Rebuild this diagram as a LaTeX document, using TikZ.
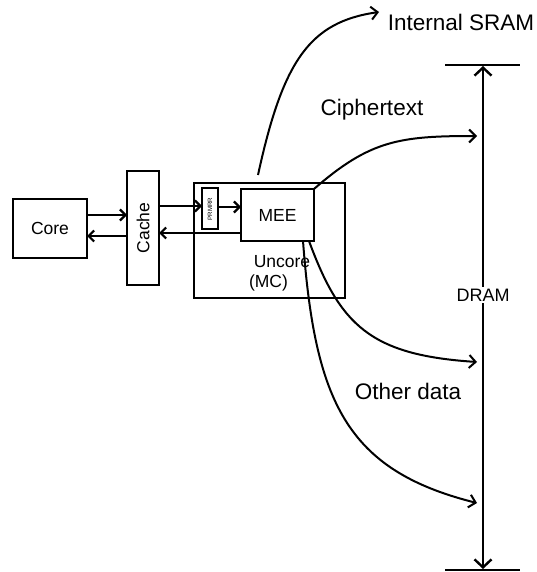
\documentclass[tikz,border=0pt]{standalone}
\usepackage{fontspec}
\setmainfont{Liberation Sans}
\usetikzlibrary{arrows.meta}
\begin{document}
\begin{tikzpicture}[x=1pt,y=-1pt,
  box/.style={draw, line width=2.5pt, inner sep=0pt, outer sep=0pt},
  boxtext/.style={font=\fontsize{17.5}{20}\selectfont},
  bigtext/.style={font=\fontsize{22.5}{26}\selectfont, inner sep=0pt},
  harr/.style={line width=2.2pt, -{Straight Barb[length=5.5pt,width=11pt]}},
  carr/.style={line width=2pt, -{Straight Barb[length=6.5pt,width=13pt]}},
  bar/.style={line width=2.4pt}]
\useasboundingbox (0,0) rectangle (536,572);

% boxes
\node[box, boxtext, minimum width=74pt, minimum height=59pt] (core) at (50,228.5) {Core};
\node[box, minimum width=32pt, minimum height=114pt] (cache) at (143,228) {};
\node[boxtext, rotate=90] (cachelbl) at (143,228) {Cache};
\node[box, minimum width=151pt, minimum height=115pt] (uncore) at (269.5,240.5) {};
\node[box, line width=1.8pt, minimum width=16pt, minimum height=41pt] (prmrr) at (210,208.5) {};
\node[rotate=90, font=\fontsize{6.2}{7}\selectfont, inner sep=0pt] (prmrrlbl) at (210,209) {PRMRR};
\node[box, boxtext, minimum width=73pt, minimum height=52pt] (mee) at (277.5,215) {MEE};
\node[boxtext, inner sep=0pt] (unc1) at (282,262) {Uncore};
\node[boxtext, inner sep=0pt] (unc2) at (268.5,283) {(MC)};

% horizontal arrows
\draw[harr] ([yshift=13.5pt]core.east) -- ([yshift=13pt]cache.west);
\draw[harr] ([yshift=-8pt]cache.west) -- ([yshift=-7.5pt]core.east);
\draw[harr] ([yshift=22pt]cache.east) -- ([yshift=2.5pt]prmrr.west);
\draw[harr] ([yshift=1.5pt]prmrr.east) -- ([yshift=8pt]mee.west);
\draw[harr] ([yshift=-18pt]mee.west) -- ([yshift=-5pt]cache.east);

% DRAM
\coordinate (dtop) at (483,65);
\coordinate (dbot) at (483,570);
\draw[bar] (445,65) coordinate (dtl) -- (520,65) coordinate (dtr);
\draw[bar] (445,570) coordinate (dbl) -- (520,570) coordinate (dbr);
\draw[line width=2.4pt, {Straight Barb[length=8pt,width=17pt]}-{Straight Barb[length=8pt,width=17pt]}, shorten <=1pt, shorten >=1pt] (dtop) -- (dbot);
\node[fill=white, font=\fontsize{18}{20}\selectfont, inner sep=1.5pt] (dram) at (483,295) {DRAM};

% labels
\node[bigtext] (sram) at (461,22) {Internal SRAM};
\node[bigtext] (cipher) at (372,110) {Ciphertext};
\node[bigtext] (other) at (408,391) {Other data};

% curved connectors
\coordinate (sramstart) at (258,175);
\coordinate (sramend) at (379,12);
\coordinate (cend) at (477,136);
\coordinate (aend) at (477,362);
\coordinate (bend) at (477,503);
\draw[carr] (sramstart) .. controls (283,60) and (310,22) .. (sramend);
\draw[carr] (mee.north east) .. controls (370,140) and (400,136) .. (cend);
\draw[carr] ([xshift=-5pt]mee.south east) .. controls (340,325) and (370,355) .. (aend);
\draw[carr] ([xshift=-11pt]mee.south east) .. controls (315,400) and (345,470) .. (bend);
\end{tikzpicture}
\end{document}
